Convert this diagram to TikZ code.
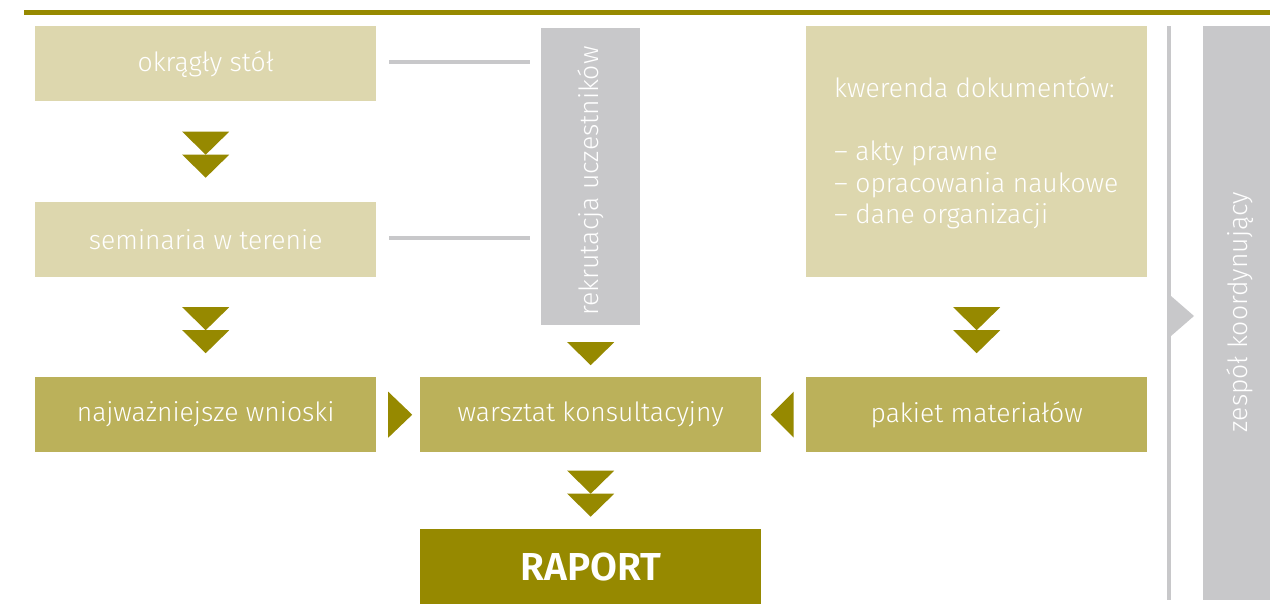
\documentclass[tikz,border=0pt]{standalone}
\usepackage{fontspec}
\setmainfont{Fira Sans Light}[BoldFont={Fira Sans SemiBold}]
\usetikzlibrary{calc}
\definecolor{lightol}{RGB}{221,215,174}
\definecolor{midol}{RGB}{187,177,90}
\definecolor{darkol}{RGB}{150,137,0}
\definecolor{grayb}{RGB}{200,200,202}
\tikzset{
  txt/.style={text=white, font=\fontsize{26.5}{31}\selectfont},
  box/.style={txt, anchor=north west, minimum width=341pt, minimum height=75pt, inner sep=0pt},
  lightbox/.style={box, fill=lightol},
  midbox/.style={box, fill=midol},
  darkbox/.style={box, fill=darkol, font=\fontsize{39}{44}\bfseries},
  graybox/.style={anchor=north west, inner sep=0pt, fill=grayb},
  arr/.style={fill=darkol},
  garr/.style={fill=grayb},
  gline/.style={draw=grayb, line width=3.5pt},
}
\begin{document}
\begin{tikzpicture}[x=1pt,y=-1pt]
\useasboundingbox (0,0) rectangle (1270,611);
\fill[darkol] (24,10) rectangle (1270,15);
% boxes
\node[lightbox] (okr) at (35,26) {okrągły stół};
\node[lightbox] (sem) at (35,202) {seminaria w terenie};
\node[midbox] (wn) at (35,377) {najważniejsze wnioski};
\node[midbox] (war) at (420,377) {warsztat konsultacyjny};
\node[darkbox] (rap) at (420,529) {RAPORT};
\node[midbox] (pak) at (806,377) {pakiet materiałów};
\node[lightbox, minimum height=251pt] (kw) at (806,26) {};
\node[txt, anchor=north west, align=left, inner sep=0pt, font=\fontsize{26.5}{31.5}\selectfont] (kwt) at (834,77) {kwerenda dokumentów:\\[31.5pt]– akty prawne\\– opracowania naukowe\\– dane organizacji};
\node[graybox, minimum width=99pt, minimum height=297pt] (rek) at (541,28) {};
\node[txt, rotate=90, inner sep=0pt] (rekt) at (591,181) {rekrutacja uczestników};
\node[graybox, minimum width=67pt, minimum height=574pt] (zes) at (1203,26) {};
\node[txt, rotate=90, inner sep=0pt] (zest) at (1240,312) {zespół koordynujący};
% gray connectors
\draw[gline] ($(okr.east)+(13,-1.5)$) -- ($(rek.west|-okr.east)+(-11,-1.5)$);
\draw[gline] ($(sem.east)+(13,-1.5)$) -- ($(rek.west|-sem.east)+(-11,-1.5)$);
\coordinate (vt) at (1169,26);
\coordinate (vb) at (1169,600);
\draw[draw=grayb, line width=4pt] (vt) -- (vb);
\fill[garr] (1171,296) -- (1194,316) -- (1171,336) -- cycle;
% double down arrows
\foreach \a/\b in {okr/sem, sem/wn, war/rap, kw/pak}{
  \coordinate (c) at ($(\a.south)!0.5!(\b.north)+(0,3)$);
  \fill[arr] ($(c)+(-23.5,-23)$) -- ($(c)+(23.5,-23)$) -- (c) -- cycle;
  \fill[arr] ($(c)+(-23.5,0)$) -- ($(c)+(23.5,0)$) -- ($(c)+(0,23)$) -- cycle;
}
% single down arrow from rekrutacja
\coordinate (d) at ($(rek.south)!0.5!(war.north)$);
\fill[arr] ($(d)+(-23.5,-9)$) -- ($(d)+(23.5,-9)$) -- ($(d)+(0,14)$) -- cycle;
% right arrow into warsztat
\coordinate (r) at ($(wn.east)!0.5!(war.west)$);
\fill[arr] ($(r)+(-10,-23)$) -- ($(r)+(14,0)$) -- ($(r)+(-10,23)$) -- cycle;
% left arrow into warsztat
\coordinate (l) at ($(war.east)!0.5!(pak.west)$);
\fill[arr] ($(l)+(10,-23)$) -- ($(l)+(-13,0)$) -- ($(l)+(10,23)$) -- cycle;
\end{tikzpicture}
\end{document}
